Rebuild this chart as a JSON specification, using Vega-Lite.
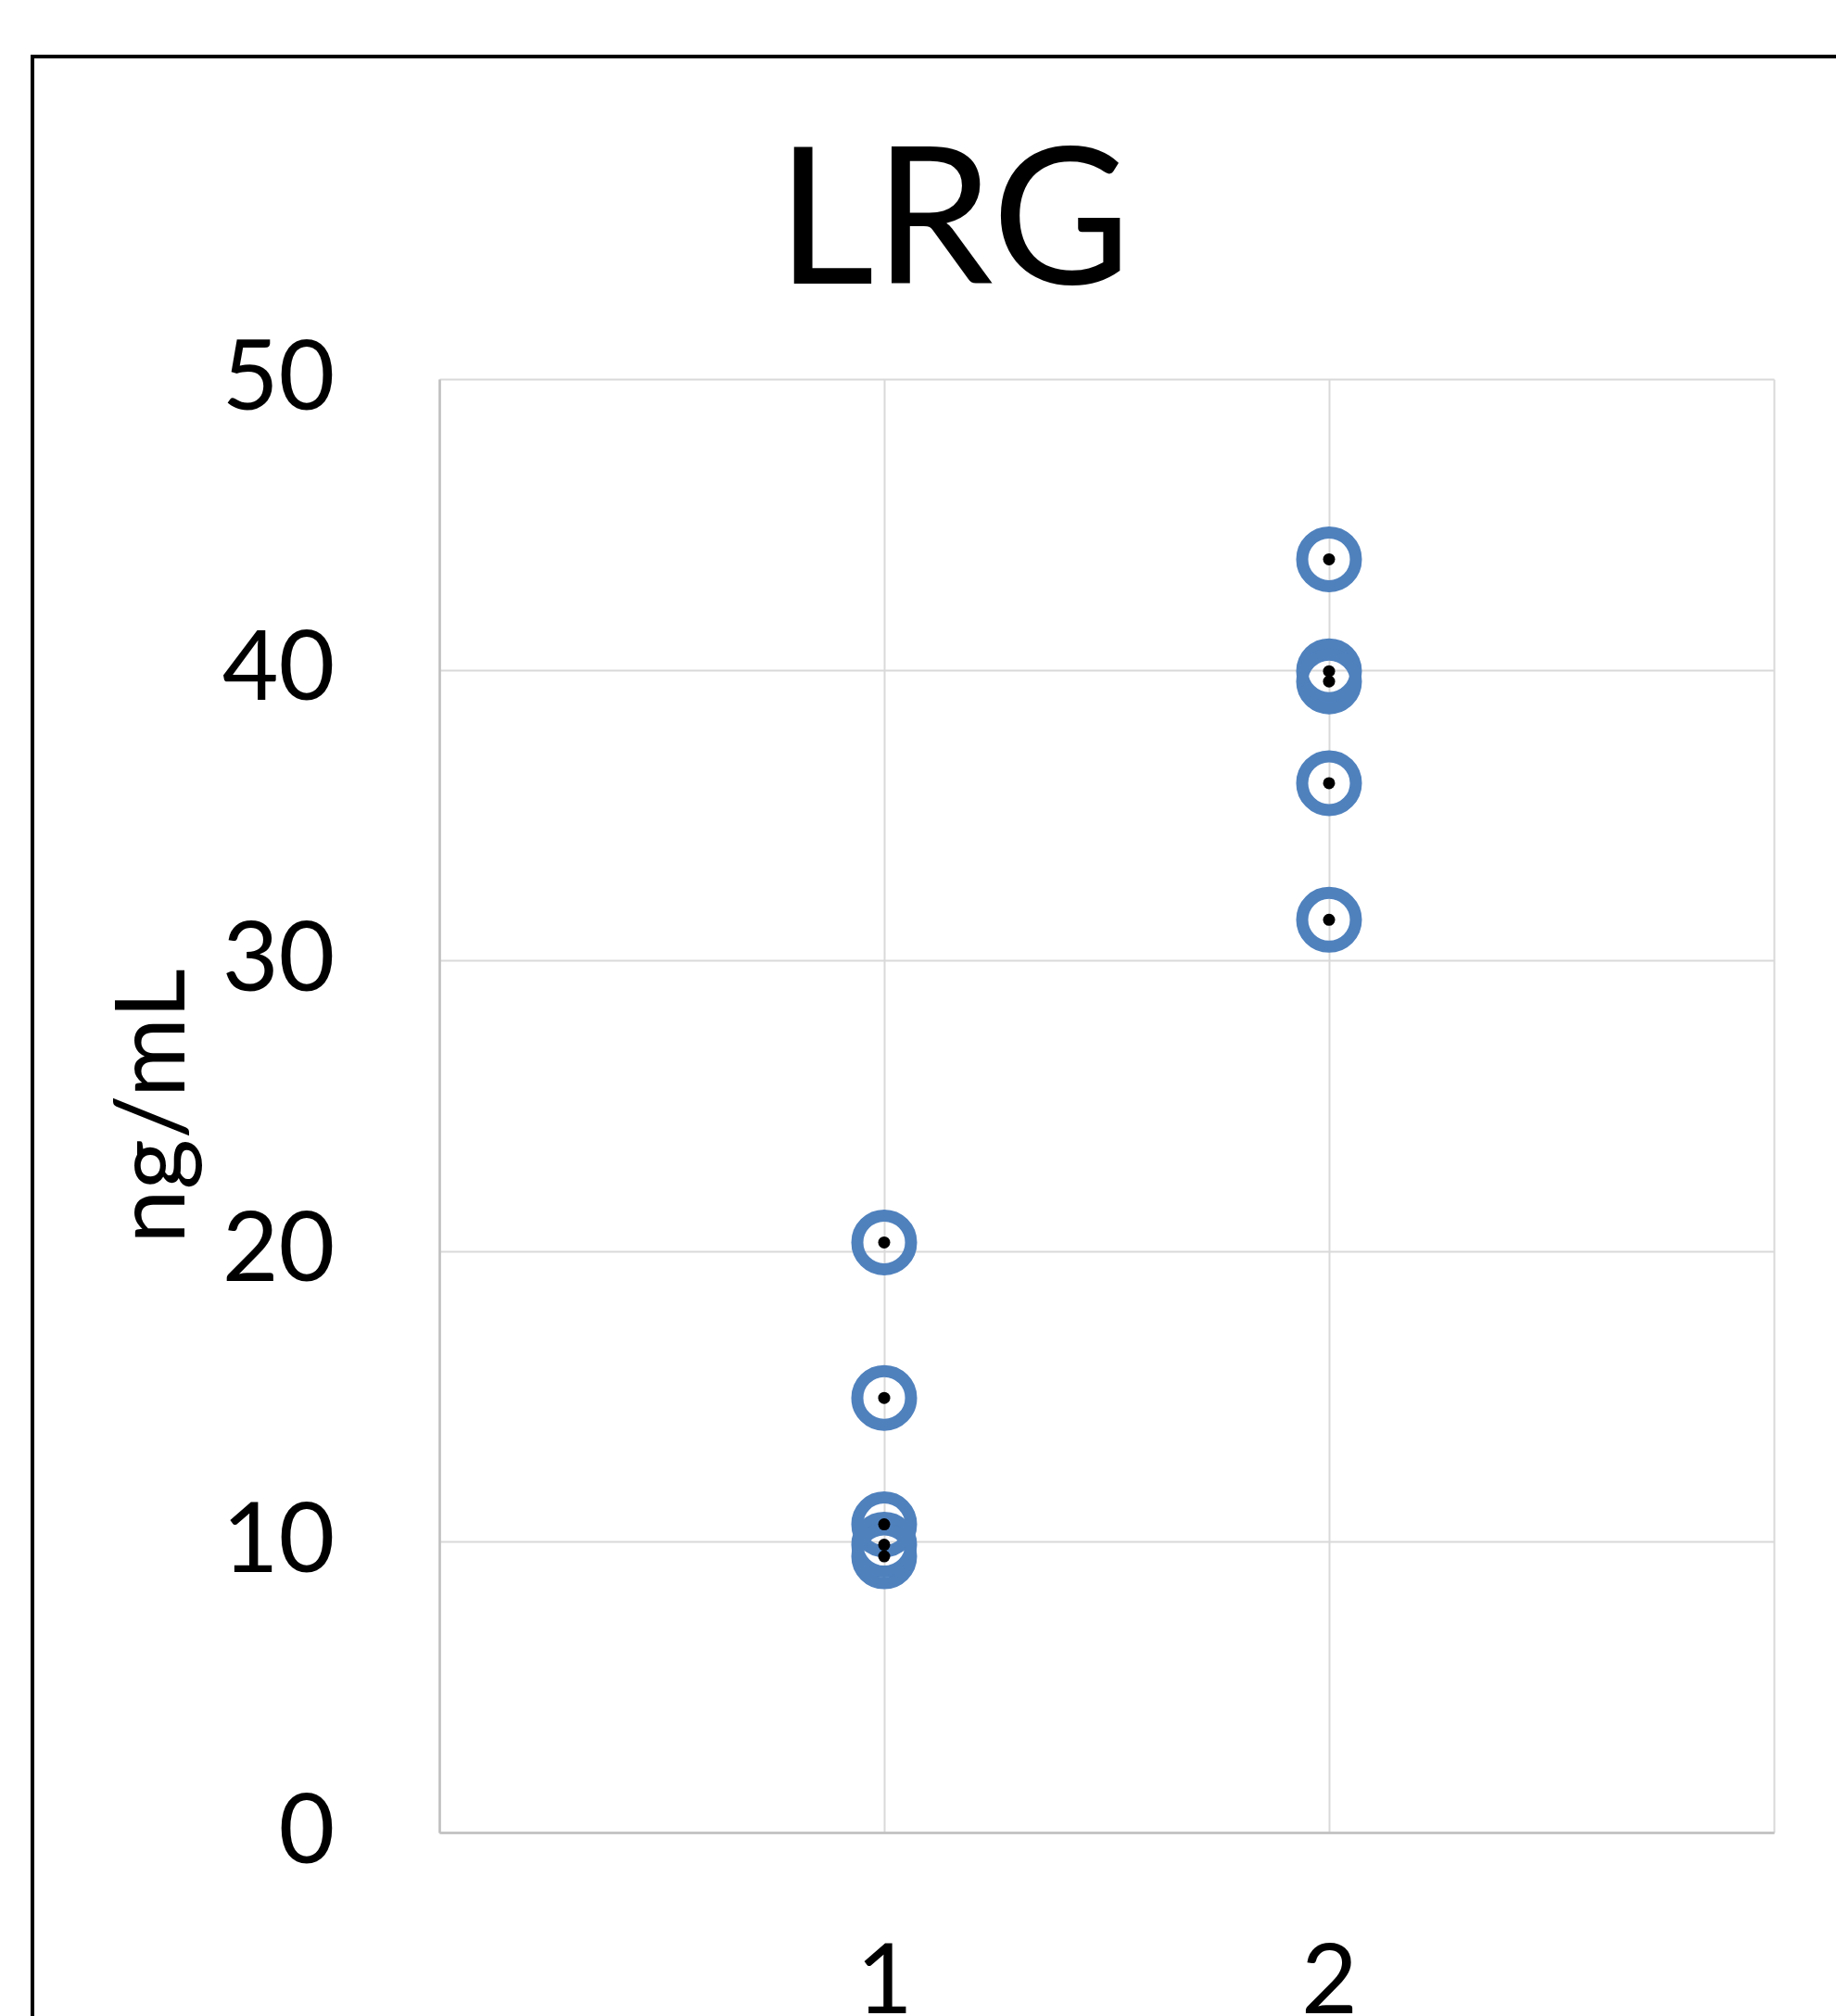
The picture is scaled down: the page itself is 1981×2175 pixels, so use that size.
{
  "$schema": "https://vega.github.io/schema/vega-lite/v6.json",
  "autosize": {"type": "none"},
  "width": 1440,
  "height": 1568,
  "padding": {"left": 474, "top": 409, "right": 67, "bottom": 198},
  "background": "white",
  "config": {
    "view": {"stroke": null},
    "font": "Lato",
    "axis": {"labelFont": "Lato", "titleFont": "Lato", "labelColor": "black", "titleColor": "black", "ticks": false, "gridColor": "#D9D9D9", "gridWidth": 2, "domainColor": "#BFBFBF", "domainWidth": 2.5}
  },
  "title": {"text": "LRG", "font": "Lato", "fontSize": 205, "fontWeight": "normal", "color": "black", "anchor": "middle", "frame": "group", "dx": -165, "baseline": "alphabetic", "offset": -452},
  "data": {"values": [
    {"group": 1, "value": 20.3},
    {"group": 1, "value": 14.95},
    {"group": 1, "value": 10.6},
    {"group": 1, "value": 9.9},
    {"group": 1, "value": 9.5},
    {"group": 2, "value": 43.8},
    {"group": 2, "value": 39.95},
    {"group": 2, "value": 39.6},
    {"group": 2, "value": 36.1},
    {"group": 2, "value": 31.4}
  ]},
  "layer": [
    {
      "mark": {"type": "rect", "fill": null, "stroke": "black", "strokeWidth": 3, "clip": false},
      "encoding": {
        "x": {"datum": -0.9146, "type": "quantitative", "scale": {"domain": [0, 3]}},
        "x2": {"datum": 4.5},
        "y": {"datum": 61.1, "type": "quantitative", "scale": {"domain": [0, 50]}},
        "y2": {"datum": -20}
      }
    },
    {
      "mark": {"type": "point", "shape": "circle", "filled": false, "stroke": "#4F81BD", "strokeWidth": 13, "size": 3364, "opacity": 1},
      "encoding": {
        "x": {"field": "group", "type": "quantitative", "scale": {"domain": [0, 3], "nice": false, "zero": false},
          "axis": {"values": [0, 1, 2, 3], "format": "d", "labelExpr": "datum.value == 1 || datum.value == 2 ? datum.label : ''", "labelFontSize": 105, "labelPadding": 111, "labelBaseline": "top", "title": null, "grid": true}},
        "y": {"field": "value", "type": "quantitative", "scale": {"domain": [0, 50], "nice": false},
          "axis": {"values": [0, 10, 20, 30, 40, 50], "labelFontSize": 105, "labelPadding": 113, "labelBaseline": "middle", "title": "ng/mL", "titleFontSize": 105, "titleFontWeight": "normal", "titleX": -308, "titleY": 784, "titleAngle": -90, "titleAlign": "center", "titleBaseline": "middle", "grid": true}}
      }
    },
    {
      "mark": {"type": "circle", "color": "black", "size": 169, "opacity": 1},
      "encoding": {
        "x": {"field": "group", "type": "quantitative"},
        "y": {"field": "value", "type": "quantitative"}
      }
    }
  ]
}
